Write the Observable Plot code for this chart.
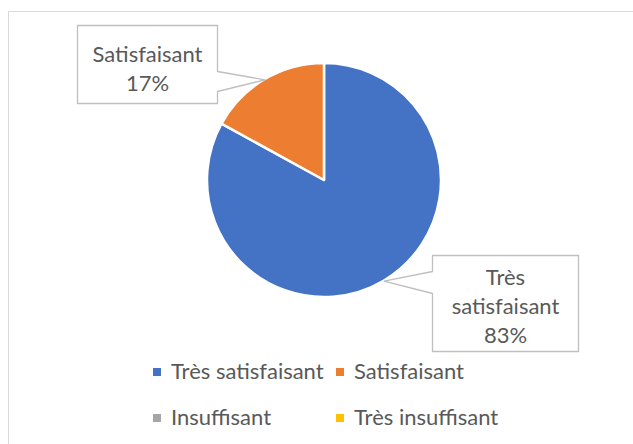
<!DOCTYPE html>
<html>
<head>
<meta charset="utf-8">
<script src="https://cdn.jsdelivr.net/npm/d3@7"></script>
<script src="https://cdn.jsdelivr.net/npm/@observablehq/plot@0.6"></script>
<style>
  html, body { margin: 0; padding: 0; background: #fff; overflow: hidden; width: 633px; height: 444px; }
  #frame { position: absolute; left: 8px; top: 11px; width: 700px; height: 500px; border: 1.5px solid #D9D9D9; box-sizing: border-box; }
  #chart { position: absolute; left: 0; top: 0; }
</style>
</head>
<body>
<div id="frame"></div>
<div id="chart"></div>
<script>
// ---- data ----
const categories = ["Très satisfaisant", "Satisfaisant", "Insuffisant", "Très insuffisant"];
const values = [83, 17, 0, 0];
const colors = ["#4472C4", "#ED7D31", "#A5A5A5", "#FFC000"];

// ---- layout ----
const W = 633, H = 444;
const CX = 324, CY = 180, R = 117;
const FONT = "Lato, 'Open Sans', sans-serif";
const TEXT_COLOR = "#595959";
const FS = 22;
// callout boxes (layout only)
const callouts = {
  "Satisfaisant": {x1: 77, y1: 25, x2: 217, y2: 103, side: "right", b1: 71, b2: 91, lines: ["Satisfaisant"], dy: 3},
  "Très satisfaisant": {x1: 432, y1: 255, x2: 578, y2: 351, side: "left", b1: 271, b2: 293, lines: ["Très", "satisfaisant"], dy: 1}
};

const data = categories.map((c, i) => ({category: c, value: values[i]}));
const arcs = d3.pie().sort(null).value(d => d.value)(data);

// callout polygons and labels, tips from slice mid-angles
const calloutPts = [];
const calloutText = [];
for (const a of arcs) {
  const c = callouts[a.data.category];
  if (!c || a.data.value === 0) continue;
  const mid = (a.startAngle + a.endAngle) / 2;
  const tx = CX + R * Math.sin(mid), ty = CY - R * Math.cos(mid);
  let pts;
  if (c.side === "right") {
    pts = [[c.x1, c.y1], [c.x2, c.y1], [c.x2, c.b1], [tx, ty], [c.x2, c.b2], [c.x2, c.y2], [c.x1, c.y2]];
  } else {
    pts = [[c.x1, c.y1], [c.x2, c.y1], [c.x2, c.y2], [c.x1, c.y2], [c.x1, c.b2], [tx, ty], [c.x1, c.b1]];
  }
  pts.forEach(([x, y]) => calloutPts.push({category: a.data.category, x, y}));
  calloutText.push({
    x: (c.x1 + c.x2) / 2,
    y: (c.y1 + c.y2) / 2 + c.dy,
    text: [...c.lines, `${a.data.value}%`].join("\n")
  });
}

// legend entries
const legend = categories.map((c, i) => ({
  category: c,
  x: i % 2 === 0 ? 156.5 : 339.5,
  y: Math.floor(i / 2) === 0 ? 371.5 : 417.5
}));

const pieMark = (index, scales) => {
  const g = d3.create("svg:g");
  const cx = scales.x(CX), cy = scales.y(CY);
  const r = scales.x(CX + R) - cx;
  const arc = d3.arc().innerRadius(0).outerRadius(r);
  g.selectAll("path")
    .data(arcs.filter(a => a.data.value > 0))
    .join("path")
    .attr("transform", `translate(${cx},${cy})`)
    .attr("d", arc)
    .attr("fill", a => scales.color(a.data.category))
    .attr("stroke", "white")
    .attr("stroke-width", 2.5)
    .attr("stroke-linejoin", "round");
  return g.node();
};

const chart = Plot.plot({
  width: W,
  height: H,
  margin: 0,
  x: {domain: [0, W], range: [0, W], axis: null},
  y: {domain: [0, H], range: [0, H], axis: null},
  color: {domain: categories, range: colors},
  style: {fontFamily: FONT, background: "transparent", overflow: "visible"},
  marks: [
    pieMark,
    Plot.line(calloutPts, {x: "x", y: "y", z: "category", curve: "linear-closed", fill: "white", stroke: "#BFBFBF", strokeWidth: 1.3}),
    Plot.text(calloutText, {x: "x", y: "y", text: "text", fontSize: FS, lineHeight: 1.33, fill: TEXT_COLOR, textAnchor: "middle"}),
    Plot.dot(legend, {x: "x", y: "y", fill: "category", symbol: "square", r: 4.5, stroke: null}),
    Plot.text(legend, {x: d => d.x + 14, y: "y", text: "category", fill: TEXT_COLOR, fontSize: FS, textAnchor: "start"})
  ]
});
document.getElementById("chart").appendChild(chart);
</script>
</body>
</html>
